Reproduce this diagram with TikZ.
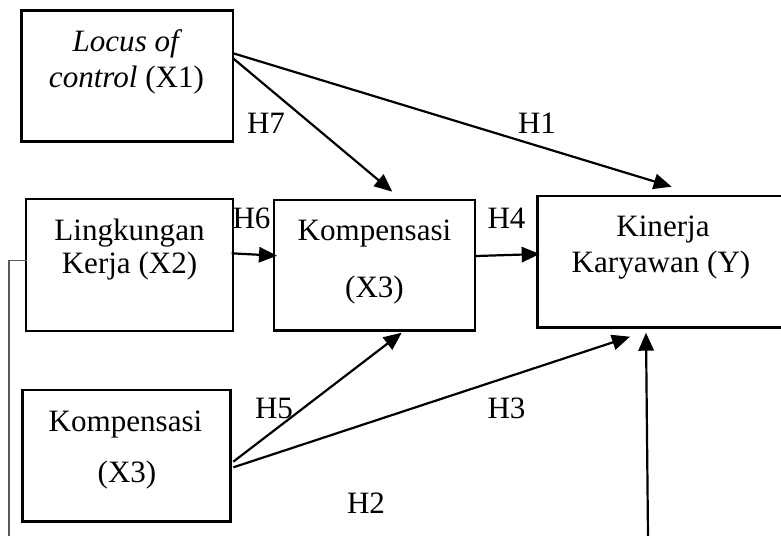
\documentclass[tikz,border=0pt]{standalone}
\usepackage{fontspec}
\setmainfont{Liberation Serif}
\usetikzlibrary{arrows.meta,calc}

\begin{document}
\begin{tikzpicture}[x=0.75pt,y=-0.75pt]
    \tikzset{var/.style 2 args = {shape=rectangle,draw,line width=2pt,inner sep=0pt,outer sep=0pt,minimum width=#1*0.75pt,minimum height=#2*0.75pt}}
    \tikzset{txt/.style = {anchor=base,inner sep=0pt,font=\fontsize{23.3}{28}\selectfont}}
    \tikzset{arr/.style = {line width=1.65pt,-{Triangle[length=13.5pt,width=11.5pt]}}}
    \tikzset{fb/.style = {line width=0.8pt,draw=black!65}}

    \useasboundingbox (0,0) rectangle (781,535);

    % variables
    \node[var={211.3}{131}] (loc) at (127.3,76.2) {};
    \node[var={207}{131.7}] (ling) at (129.5,265) {};
    \node[var={201}{130.7}] (komp) at (374.5,265.35) {};
    \node[var={245.3}{131.3}] (kin) at (660.35,261.65) {};
    \node[var={208}{131.7}] (komp3) at (126.7,455.85) {};

    % texts
    \node[txt] (loca) at (127.5,52) {\textit{Locus of}};
    \node[txt] (locb) at (126.5,88) {\textit{control} (X1)};
    \node[txt] (linga) at (129.5,240) {Lingkungan};
    \node[txt] (lingb) at (129.5,273) {Kerja (X2)};
    \node[txt] (kompa) at (374.5,240) {Kompensasi};
    \node[txt] (kompb) at (374.5,297) {(X3)};
    \node[txt] (kina) at (663,236) {Kinerja};
    \node[txt] (kinb) at (661,272) {Karyawan (Y)};
    \node[txt] (komp3a) at (125.5,431) {Kompensasi};
    \node[txt] (komp3b) at (127,482) {(X3)};

    % hypotheses
    \foreach \h/\hx/\hy in {H1/537/133.3,H2/366/513,H3/506.5/418,H4/506.5/228,H5/274/418,H6/251.5/228,H7/266/133.3}
    {
      \node[txt] (\h) at (\hx,\hy) {\h};
    }

    % loose ends
    \coordinate (ext) at (648,537);
    \coordinate (back) at (9,537);

    % paths
    \draw[arr] ($(loc.east)+(0,-23)$) -- ($(kin.north)+(11.3,-9.3)$);
    \draw[arr] ($(loc.east)+(0,-18)$) -- ($(komp.north)+(17.8,-8.3)$);
    \draw[arr] ($(ling.east)+(-1.3,-11.7)$) -- ($(komp.west)+(3,-9.6)$);
    \draw[arr] ($(komp.east)+(0,-9.3)$) -- ($(kin.west)+(2,-7.65)$);
    \draw[arr] ($(komp3.east)+(2.6,5.85)$) -- ($(komp.south)+(27.2,2)$);
    \draw[arr] ($(komp3.east)+(2.6,11.5)$) -- ($(kin.south)+(-30.35,9.4)$);
    \draw[arr] (ext) -- ($(kin.south)+(-14.35,5.4)$);
    \draw[fb] (back) |- ($(ling.west)+(1,-4.3)$);

\end{tikzpicture}
\end{document}
